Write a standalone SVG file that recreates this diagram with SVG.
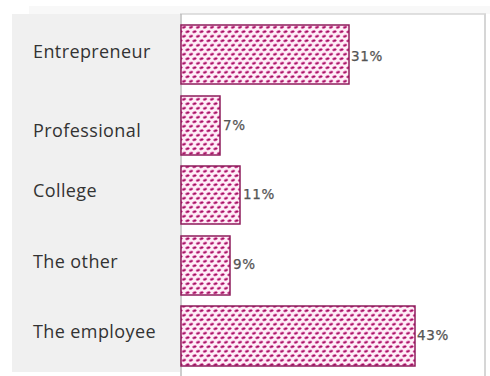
<svg xmlns="http://www.w3.org/2000/svg" width="490" height="376" viewBox="0 0 490 376">
<style>
.cat{font-family:"Open Sans","Noto Sans",sans-serif;font-size:18px;fill:#333333;letter-spacing:0.4px}
.val{font-family:"DejaVu Sans",sans-serif;font-size:13.5px;fill:#555555;letter-spacing:0.7px;stroke:#555555;stroke-width:0.25}
.bar{fill:url(#dots);stroke:#8e1c5c;stroke-width:1.5}
.d{fill:#941058;stroke:#e35aaa;stroke-width:0.7}
</style>
<defs>
<pattern id="dots" patternUnits="userSpaceOnUse" x="181" y="25" width="7" height="9">
<rect width="7" height="9" fill="#fdf0f7"/>
<ellipse class="d" cx="3" cy="2.2" rx="2" ry="1.1" transform="rotate(-15 3 2.2)"/>
<ellipse class="d" cx="6.5" cy="6.7" rx="2" ry="1.1" transform="rotate(-15 6.5 6.7)"/>
<ellipse class="d" cx="-0.5" cy="6.7" rx="2" ry="1.1" transform="rotate(-15 -0.5 6.7)"/>
</pattern>
</defs>
<rect width="490" height="376" fill="#ffffff"/>
<rect x="29" y="6" width="461" height="8" fill="#f8f8f8"/>
<g id="panel">
<rect x="12" y="14" width="168" height="358" fill="#f0f0f0"/>
</g>
<g id="frame" fill="none" stroke="#d6d6d6">
<line x1="180" y1="14" x2="486" y2="14" stroke-width="1.5"/>
<line x1="485" y1="14" x2="485" y2="376" stroke-width="2"/>
</g>
<g id="connectors">
<line x1="181" y1="14" x2="181" y2="376" stroke="#bdbdbd" stroke-width="1.5"/>
</g>
<g id="bar-entrepreneur">
<rect class="bar" x="181" y="25" width="168" height="59"/>
<text class="val" x="351" y="61">31%</text>
<text class="cat" x="33" y="58">Entrepreneur</text>
</g>
<g id="bar-professional">
<rect class="bar" x="181" y="96" width="39" height="59"/>
<text class="val" x="223" y="130">7%</text>
<text class="cat" x="33" y="137">Professional</text>
</g>
<g id="bar-college">
<rect class="bar" x="181" y="166" width="59" height="58"/>
<text class="val" x="243" y="199">11%</text>
<text class="cat" x="33" y="197">College</text>
</g>
<g id="bar-other">
<rect class="bar" x="181" y="236" width="49" height="59"/>
<text class="val" x="233" y="269">9%</text>
<text class="cat" x="33" y="268">The other</text>
</g>
<g id="bar-employee">
<rect class="bar" x="181" y="306" width="234" height="60"/>
<text class="val" x="417" y="340">43%</text>
<text class="cat" x="33" y="338">The employee</text>
</g>
</svg>
